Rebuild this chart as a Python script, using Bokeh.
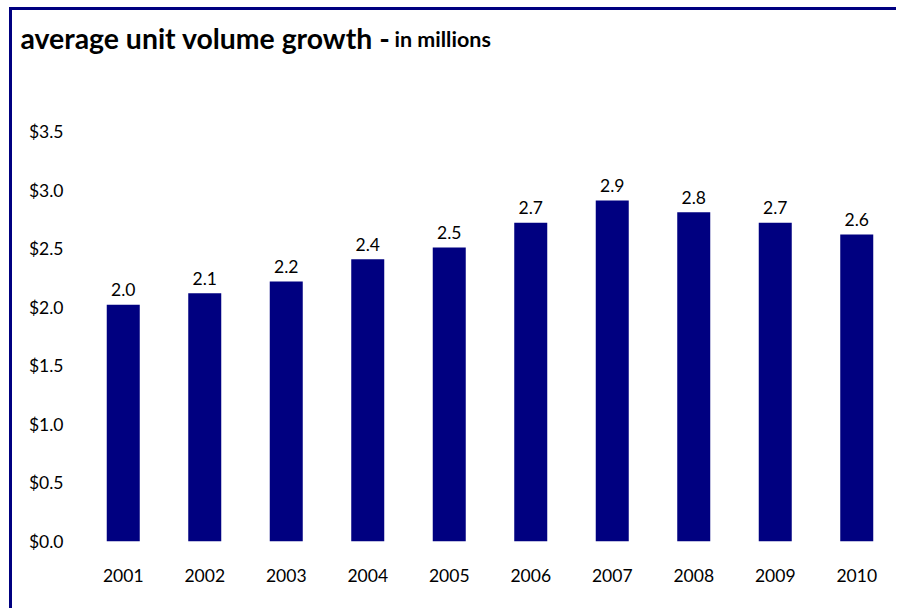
from bokeh.plotting import figure
from bokeh.models import (ColumnDataSource, FactorRange, Range1d, FixedTicker,
                          NumeralTickFormatter, Label)
from bokeh.core.properties import value
from bokeh.embed import file_html
from bokeh.resources import INLINE

# ---- data ----
years = ["2001", "2002", "2003", "2004", "2005", "2006", "2007", "2008", "2009", "2010"]
auv = [2.02, 2.12, 2.22, 2.41, 2.51, 2.72, 2.91, 2.81, 2.72, 2.62]
y_ticks = [0.0, 0.5, 1.0, 1.5, 2.0, 2.5, 3.0, 3.5]
title_main = "average unit volume growth -"
title_sub = "in millions"

NAVY = "#000080"
FONT = "Lato"

src = ColumnDataSource(dict(
    year=years,
    auv=auv,
    lbl=["%.1f" % v for v in auv],
))

p = figure(
    width=887, height=601,
    x_range=FactorRange(*years, range_padding=0),
    y_range=Range1d(0, 3.5),
    output_backend="svg", toolbar_location=None,
    min_border_left=70, min_border_right=2,
    min_border_top=121, min_border_bottom=70,
)
p.styles = {
    "border-left": "3px solid #000080",
    "border-top": "3px solid #000080",
    "margin-left": "9px",
    "margin-top": "7px",
}
p.outline_line_color = None
p.background_fill_color = "white"
p.border_fill_color = "white"
p.xgrid.visible = False
p.ygrid.visible = False

p.vbar(x="year", top="auv", width=0.405, source=src,
       fill_color=NAVY, line_color=None)

p.text(x="year", y="auv", text="lbl", source=src,
       text_align="center", text_baseline="alphabetic", y_offset=-15,
       text_font=value(FONT), text_font_size="17.5px", text_color="#000000")

# axes
for ax in (p.xaxis[0], p.yaxis[0]):
    ax.axis_line_color = None
    ax.major_tick_line_color = None
    ax.minor_tick_line_color = None
    ax.major_tick_out = 0
    ax.major_tick_in = 0
    ax.major_label_text_font = FONT
    ax.major_label_text_font_size = "17.5px"
    ax.major_label_text_color = "#000000"

p.yaxis[0].ticker = FixedTicker(ticks=y_ticks)
p.yaxis[0].formatter = NumeralTickFormatter(format="$0.0")
p.yaxis[0].major_label_standoff = 19
p.xaxis[0].major_label_standoff = 27

# title (placed in the top panel so it is not clipped to the frame)
p.add_layout(Label(x=5, y=24, x_units="canvas", y_units="canvas",
                   text=title_main, text_font=FONT, text_font_size="28.4px",
                   text_font_style="bold", text_baseline="alphabetic",
                   text_color="#000000"), "above")
p.add_layout(Label(x=379, y=25, x_units="canvas", y_units="canvas",
                   text=title_sub, text_font=FONT, text_font_size="21.5px",
                   text_font_style="bold", text_baseline="alphabetic",
                   text_color="#000000"), "above")

open("out.html", "w").write(file_html(p, INLINE))
